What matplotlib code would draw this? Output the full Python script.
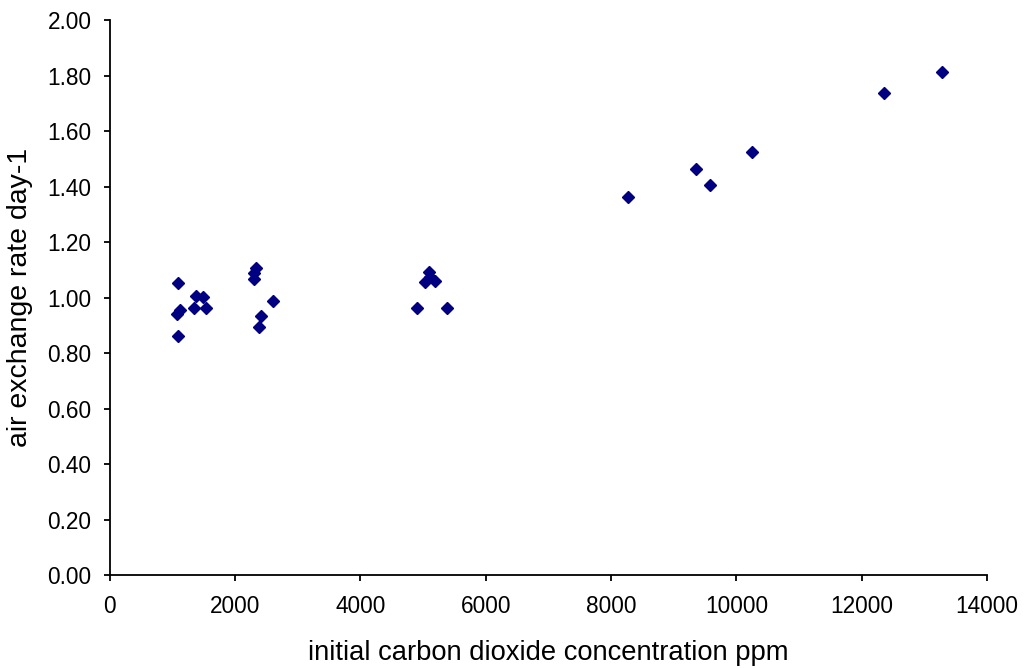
import matplotlib.pyplot as plt
import numpy as np

plt.rcParams['font.family'] = ['Liberation Sans', 'DejaVu Sans']

co2_ppm = [1085, 1380, 1495, 1350, 1532, 1131, 1080, 1085,
           2330, 2310, 2308, 2611, 2415, 2388,
           5097, 5032, 5191, 5111, 4899, 5378,
           8272, 9357, 9576, 10251, 12356, 13282]
air_exchange = [1.051, 1.006, 1.003, 0.963, 0.963, 0.955, 0.940, 0.861,
                1.105, 1.087, 1.067, 0.988, 0.933, 0.893,
                1.093, 1.057, 1.059, 1.075, 0.961, 0.961,
                1.362, 1.463, 1.405, 1.524, 1.737, 1.813]

fig = plt.figure(figsize=(10.24, 6.68), dpi=100)
ax = fig.add_axes([0.107, 0.139, 0.857, 0.831])

ax.plot(co2_ppm, air_exchange, linestyle='none', marker='D', markersize=6.5,
        color='#000080')

ax.set_xlim(0, 14000)
ax.set_ylim(0, 2.0)
ax.set_xticks(np.arange(0, 14001, 2000))
ax.set_yticks(np.arange(0, 2.01, 0.2))
ax.set_yticklabels(["%.2f" % v for v in np.arange(0, 2.01, 0.2)])

for s in ['top', 'right']:
    ax.spines[s].set_visible(False)
for s in ['left', 'bottom']:
    ax.spines[s].set_linewidth(1.3)
ax.tick_params(direction='out', length=4.5, width=1.3, labelsize=16.3)
ax.tick_params(axis='x', pad=10)
ax.tick_params(axis='y', pad=8.5)

ax.set_xlabel("initial carbon dioxide concentration ppm", fontsize=19.7)
ax.set_ylabel("air exchange rate day-1", fontsize=20.5)
ax.xaxis.set_label_coords(0.5, -0.116)
ax.yaxis.set_label_coords(-0.0875, 0.5)

plt.savefig("out.png", dpi=100)
